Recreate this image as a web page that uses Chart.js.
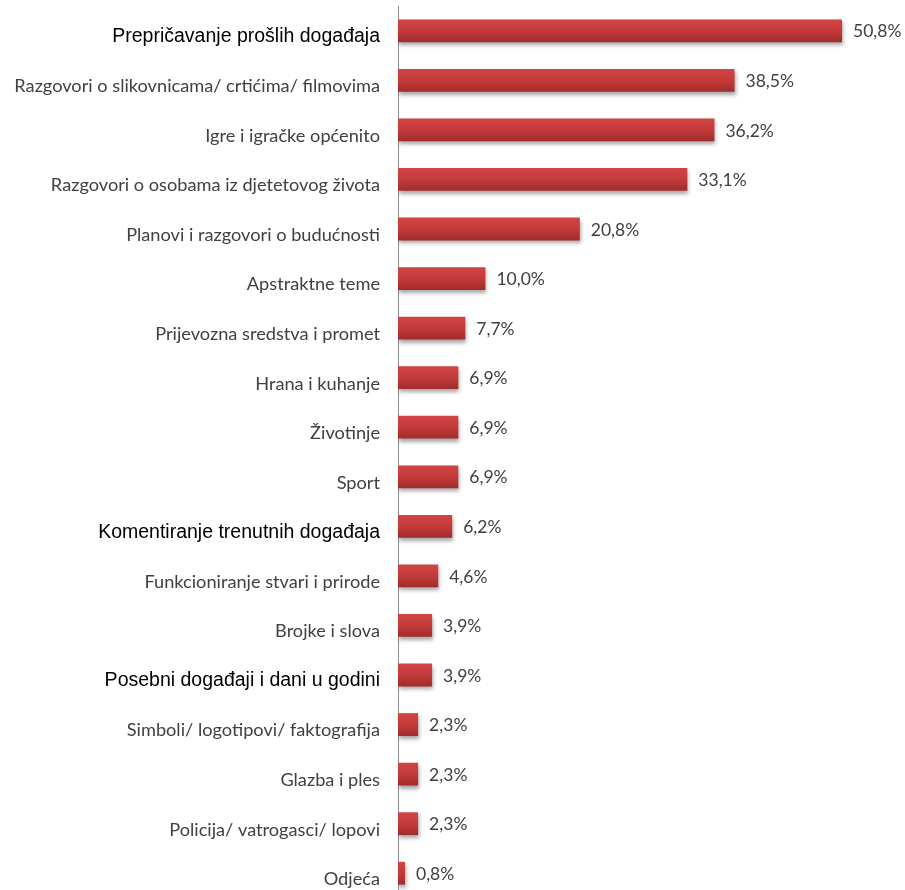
<!DOCTYPE html>
<html>
<head>
<meta charset="utf-8">
<script src="https://cdn.jsdelivr.net/npm/chart.js@4"></script>
<style>
  html, body { margin: 0; padding: 0; background: #fff; overflow: hidden; }
</style>
</head>
<body>
<canvas id="chart" width="905" height="898"></canvas>
<script>
// Categories, top to bottom
const categories = [
  "Prepričavanje prošlih događaja",
  "Razgovori o slikovnicama/ crtićima/ filmovima",
  "Igre i igračke općenito",
  "Razgovori o osobama iz djetetovog života",
  "Planovi i razgovori o budućnosti",
  "Apstraktne teme",
  "Prijevozna sredstva i promet",
  "Hrana i kuhanje",
  "Životinje",
  "Sport",
  "Komentiranje trenutnih događaja",
  "Funkcioniranje stvari i prirode",
  "Brojke i slova",
  "Posebni događaji i dani u godini",
  "Simboli/ logotipovi/ faktografija",
  "Glazba i ples",
  "Policija/ vatrogasci/ lopovi",
  "Odjeća"
];

// Percentages
const values = [50.8, 38.5, 36.2, 33.1, 20.8, 10.0, 7.7, 6.9, 6.9, 6.9, 6.2, 4.6, 3.9, 3.9, 2.3, 2.3, 2.3, 0.8];

// Categories written in the black font in the original
const highlighted = [0, 10, 13];

// Gradient per bar, lighter on top
const barFill = (c) => {
  const chart = c.chart;
  const y = chart.scales.y;
  if (!y || !chart.chartArea) return "#c43a3a";
  const py = y.getPixelForValue(c.dataIndex);
  const g = chart.ctx.createLinearGradient(0, py - 12, 0, py + 12);
  g.addColorStop(0, "#d24545");
  g.addColorStop(0.5, "#c43a3a");
  g.addColorStop(1, "#9e2b2b");
  return g;
};

// Soft shadow under bars
const shadowPlugin = {
  id: "shadow",
  beforeDatasetsDraw(chart) {
    const ctx = chart.ctx;
    ctx.save();
    ctx.shadowColor = "rgba(0,0,0,0.35)";
    ctx.shadowBlur = 4;
    ctx.shadowOffsetX = 1;
    ctx.shadowOffsetY = 3;
  },
  afterDatasetsDraw(chart) {
    chart.ctx.restore();
  }
};

// Value labels after each bar
const valueLabels = {
  id: "valueLabels",
  afterDatasetsDraw(chart) {
    const ctx = chart.ctx;
    const meta = chart.getDatasetMeta(0);
    ctx.save();
    ctx.font = "17.5px Lato";
    ctx.fillStyle = "#404040";
    ctx.textBaseline = "middle";
    meta.data.forEach((bar, i) => {
      const txt = values[i].toFixed(1).replace(".", ",") + "%";
      ctx.fillText(txt, bar.x + 11, bar.y + 1);
    });
    ctx.restore();
  }
};

new Chart(document.getElementById("chart"), {
  type: "bar",
  data: {
    labels: categories,
    datasets: [{
      data: values,
      backgroundColor: barFill,
      borderWidth: 0,
      barPercentage: 0.46,
      categoryPercentage: 1
    }]
  },
  options: {
    indexAxis: "y",
    responsive: false,
    animation: false,
    layout: { padding: { top: 6, left: 0, right: 0, bottom: 0 } },
    plugins: {
      legend: { display: false },
      tooltip: { enabled: false }
    },
    scales: {
      x: {
        display: false,
        min: 0,
        max: 58
      },
      y: {
        afterFit(scale) {
          scale.width = 398;
          scale.paddingTop = 0;
          scale.paddingBottom = 0;
        },
        grid: { display: false, drawTicks: false },
        border: { display: true, color: "#8c8c8c", width: 1 },
        ticks: {
          padding: 18,
          labelOffset: 6,
          autoSkip: false,
          color: (c) => highlighted.includes(c.index) ? "#000000" : "#404040",
          font: (c) => highlighted.includes(c.index)
            ? { family: "'Liberation Sans', Arial", size: 19.5 }
            : { family: "Lato", size: 18.2 }
        }
      }
    }
  },
  plugins: [shadowPlugin, valueLabels]
});
</script>
</body>
</html>
